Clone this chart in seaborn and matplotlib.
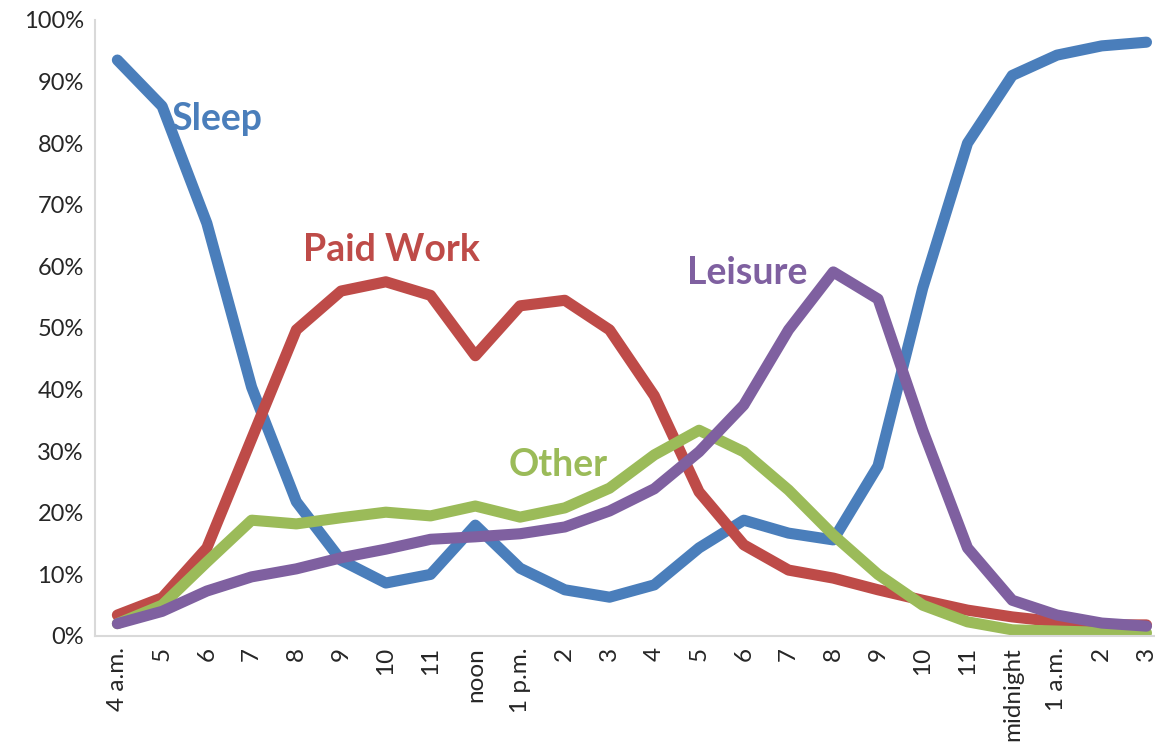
import pandas as pd
import numpy as np
import matplotlib
matplotlib.use("Agg")
import matplotlib.pyplot as plt
import seaborn as sns

HOURS = ["4 a.m.", "5", "6", "7", "8", "9", "10", "11", "noon", "1 p.m.", "2", "3",
         "4", "5", "6", "7", "8", "9", "10", "11", "midnight", "1 a.m.", "2", "3"]

SLEEP = [93.5, 86, 67, 40.4, 21.8, 12.3, 8.6, 10, 18, 11, 7.5, 6.3,
         8.3, 14.3, 18.8, 16.7, 15.6, 27.6, 56.5, 80, 91, 94.3, 95.8, 96.4]
PAID_WORK = [3.4, 6.2, 14.3, 32, 49.7, 56, 57.5, 55.3, 45.5, 53.6, 54.5, 49.7,
             39, 23.4, 14.8, 10.7, 9.4, 7.5, 5.8, 4.2, 3.1, 2.3, 1.8, 1.8]
OTHER = [2, 5, 12, 18.8, 18.2, 19.2, 20.1, 19.5, 21.1, 19.3, 20.8, 24,
         29.4, 33.4, 29.9, 23.7, 16.4, 10, 5, 2.3, 1, 0.8, 0.6, 0.5]
LEISURE = [2, 4, 7.3, 9.6, 10.9, 12.7, 14.1, 15.7, 16.1, 16.6, 17.7, 20.3,
           23.9, 29.9, 37.5, 49.7, 59.1, 54.7, 33.4, 14.3, 5.8, 3.4, 2.1, 1.6]

SERIES = ["Sleep", "Paid Work", "Other", "Leisure"]
COLORS = ["#4A7EBB", "#BE4B48", "#9BBB59", "#7F60A0"]

rows = []
for name, vals in zip(SERIES, [SLEEP, PAID_WORK, OTHER, LEISURE]):
    for i, v in enumerate(vals):
        rows.append({"pos": i, "share": v, "activity": name})
df = pd.DataFrame(rows)

sns.set_style("white")
plt.rcParams["font.family"] = ["Lato", "DejaVu Sans"]

fig = plt.figure(figsize=(11.55, 7.5), dpi=100)
ax = fig.add_axes([95 / 1155, 114 / 750, 1 - 95 / 1155 + 0.012, 616 / 750])

sns.lineplot(data=df, x="pos", y="share", hue="activity", palette=COLORS,
             hue_order=SERIES, linewidth=8, ax=ax, legend=False)
for ln in ax.get_lines():
    ln.set_solid_capstyle("round")
    ln.set_solid_joinstyle("round")

# inline labels
lab = dict(fontsize=27, fontweight="bold", va="center")
ax.text(1.19, 84, "Sleep", color=COLORS[0], **lab)
ax.text(4.14, 62.7, "Paid Work", color=COLORS[1], **lab)
ax.text(8.75, 27.8, "Other", color=COLORS[2], **lab)
ax.text(12.73, 59, "Leisure", color=COLORS[3], **lab)

ax.set_xlim(-0.5, 23.5)
ax.set_ylim(0, 100)
ax.set_xticks(range(len(HOURS)))
ax.set_xticklabels(HOURS, rotation=90, fontsize=17.5)
ax.set_yticks(range(0, 101, 10))
ax.set_yticklabels([f"{v}%" for v in range(0, 101, 10)], fontsize=17)
ax.tick_params(axis="both", length=0, pad=8)
ax.set_xlabel("")
ax.set_ylabel("")

for s in ["top", "right"]:
    ax.spines[s].set_visible(False)
for s in ["left", "bottom"]:
    ax.spines[s].set_color("#D9D9D9")
    ax.spines[s].set_linewidth(1.5)

fig.savefig("out.png", dpi=100)
